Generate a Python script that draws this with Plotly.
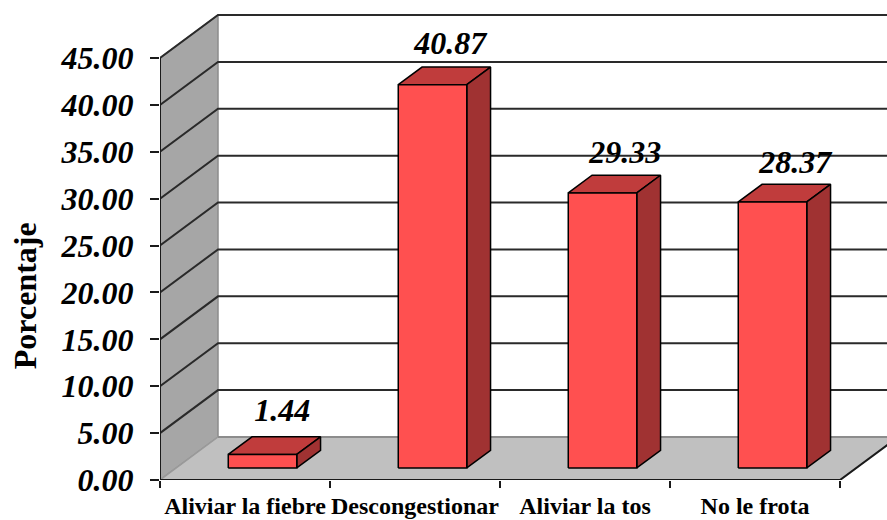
import plotly.graph_objs as go

categories = ["Aliviar la fiebre", "Descongestionar", "Aliviar la tos", "No le frota"]
values = [1.44, 40.87, 29.33, 28.37]
value_labels = ["1.44", "40.87", "29.33", "28.37"]
y_ticks = [0, 5, 10, 15, 20, 25, 30, 35, 40, 45]

# layout in pixels, the axes are scaled from these
PX_CAT = 170
PX_UNIT = 9.378
FIG_W = 887
FIG_H = 520
LEFT = 160
BOTTOM = 40
# how far the back of the box is shifted, in axis units
DX = 58 / PX_CAT
DY = 43 / PX_UNIT
N = len(categories)
Y_MAX = y_ticks[-1]
# bar placement inside the category and the depth of the box
BAR_LEFT = 0.306
BAR_WIDTH = 0.403
D_FRONT = 0.28
D_BACK = 0.69
# hand placed data labels, pixels right and up from the bar top
LABEL_NUDGE = [(-4, 8), (-6, 5), (-1, 4), (-1, 3)]

SERIF = "Liberation Serif"


def proj(x, y, d):
    return x + d * DX, y + d * DY


def poly(points, fill, line_color, width=1):
    xs, ys = zip(*[proj(*p) for p in points + [points[0]]])
    return go.Scatter(x=xs, y=ys, mode="lines", fill="toself", fillcolor=fill,
                      line=dict(color=line_color, width=width),
                      hoverinfo="skip", showlegend=False)


def edge(p0, p1, color, width=2):
    xs, ys = zip(proj(*p0), proj(*p1))
    return go.Scatter(x=xs, y=ys, mode="lines", line=dict(color=color, width=width),
                      cliponaxis=False, hoverinfo="skip", showlegend=False)


fig = go.Figure()

# side wall and floor
fig.add_trace(poly([(0, 0, 0), (0, 0, 1), (0, Y_MAX, 1), (0, Y_MAX, 0)], "#A6A6A6", "#8c8c8c", 1.5))
fig.add_trace(poly([(0, 0, 0), (N, 0, 0), (N, 0, 1), (0, 0, 1)], "#C0C0C0", "#9a9a9a", 1.5))

# gridlines over side wall and back wall
for t in y_ticks:
    xs, ys = zip(proj(0, t, 0), proj(0, t, 1), proj(N, t, 1))
    color = "#8c8c8c" if t == 0 else "#2a2a2a"
    if t == 0:
        xs, ys = xs[1:], ys[1:]
    fig.add_trace(go.Scatter(x=xs, y=ys, mode="lines", line=dict(color=color, width=2),
                             hoverinfo="skip", showlegend=False))

# right edge of the floor
xs, ys = zip(proj(N, 0, 0), proj(N, 0, 1))
fig.add_trace(go.Scatter(x=xs, y=ys, mode="lines", line=dict(color="#1a1a1a", width=2),
                         hoverinfo="skip", showlegend=False))

# bars
label_x = []
label_y = []
for i, v in enumerate(values):
    x0 = i + BAR_LEFT
    x1 = x0 + BAR_WIDTH
    fig.add_trace(poly([(x0, v, D_FRONT), (x1, v, D_FRONT), (x1, v, D_BACK), (x0, v, D_BACK)], "#C03C3C", "#000000", 1.5))
    fig.add_trace(poly([(x1, 0, D_FRONT), (x1, 0, D_BACK), (x1, v, D_BACK), (x1, v, D_FRONT)], "#A03232", "#000000", 1.5))
    fig.add_trace(poly([(x0, 0, D_FRONT), (x1, 0, D_FRONT), (x1, v, D_FRONT), (x0, v, D_FRONT)], "#FF5050", "#000000", 1.5))
    lx, ly = proj((x0 + x1) / 2, v, D_BACK)
    label_x.append(lx + LABEL_NUDGE[i][0] / PX_CAT)
    label_y.append(ly + LABEL_NUDGE[i][1] / PX_UNIT)

# axis lines stop at the box, so they are not the plot frame
fig.add_trace(edge((0, 0, 0), (0, Y_MAX, 0), "#1a1a1a"))
fig.add_trace(edge((0, 0, 0), (N, 0, 0), "#1a1a1a"))

fig.add_trace(go.Scatter(
    x=label_x, y=label_y, mode="text", text=value_labels, textposition="top center",
    textfont=dict(family=SERIF, size=32, color="black", weight="bold", style="italic"),
    hoverinfo="skip", showlegend=False
))

fig.update_layout(
    width=FIG_W,
    height=FIG_H,
    margin=dict(l=LEFT, r=0, t=0, b=BOTTOM),
    plot_bgcolor="white",
    paper_bgcolor="white",
    showlegend=False,
    xaxis=dict(
        range=[0, (FIG_W - LEFT) / PX_CAT],
        tickvals=[i + 0.5 for i in range(N)],
        ticktext=categories,
        ticks="",
        tickangle=0,
        ticklabelstandoff=9,
        showgrid=False,
        zeroline=False,
        showline=False,
        tickfont=dict(family=SERIF, size=24, color="black", weight="bold"),
        minor=dict(tickvals=list(range(N + 1)), ticks="outside", ticklen=7, tickcolor="#1a1a1a", tickwidth=1.5),
    ),
    yaxis=dict(
        range=[0, (FIG_H - BOTTOM) / PX_UNIT],
        tickvals=y_ticks,
        tickformat=".2f",
        ticks="outside",
        ticklen=9,
        tickwidth=1.5,
        tickcolor="#1a1a1a",
        ticklabelstandoff=10,
        showgrid=False,
        zeroline=False,
        showline=False,
        tickfont=dict(family=SERIF, size=32, color="black", weight="bold", style="italic"),
    ),
    annotations=[dict(
        text="Porcentaje", xref="paper", yref="y", x=-135 / (FIG_W - LEFT), y=19.6,
        showarrow=False, textangle=-90, xanchor="center", yanchor="middle",
        font=dict(family=SERIF, size=32, color="black", weight="bold"),
    )],
)

# the page keeps a default body margin otherwise, which pushes the chart off by 8px
fig.write_html("out.html", config=dict(displayModeBar=False),
               post_script="document.body.style.margin='0';")
